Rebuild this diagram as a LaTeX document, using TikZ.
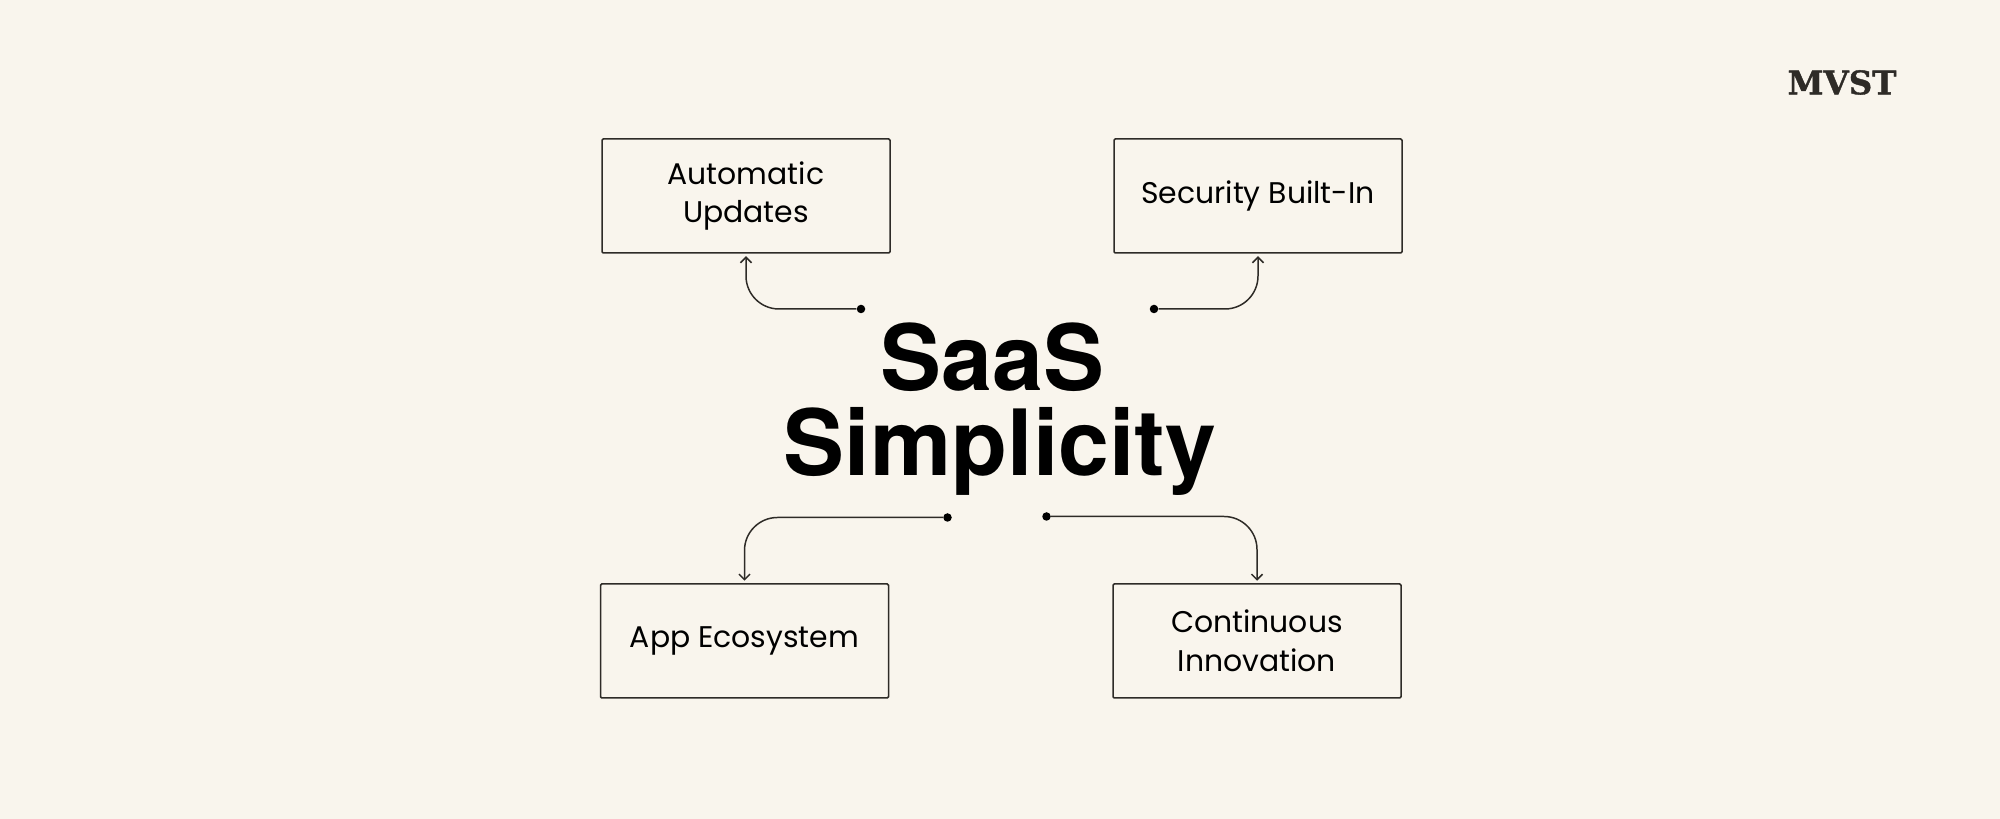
\documentclass[tikz,border=0pt]{standalone}
\usepackage{fontspec}
\setmainfont{Poppins}
\newfontfamily\titlefont{TeX Gyre Heros}
\newfontfamily\logofont[BoldFeatures={FakeBold=1.2}]{DejaVu Serif}
\usetikzlibrary{arrows.meta}
\definecolor{paper}{HTML}{F9F5ED}
\definecolor{ink}{HTML}{2E2B27}
\tikzset{
    block/.style = {draw=ink, rectangle, line width=0.85pt, rounded corners=0.7pt,
        minimum height=2.28cm, 
        minimum width=5.76cm, align=center, text=black,
        font=\fontsize{17}{22}\selectfont},
    dot/.style = {circle, fill=black, inner sep=0pt, minimum size=0.17cm},
    arrow/.style={draw=ink, line width=0.85pt, rounded corners=0.66cm, shorten >=0.05cm,
        -{Straight Barb[length=1.1mm,width=2.2mm]}}
}

\begin{document}
\begin{tikzpicture}[auto, node distance=10.24cm]
        \fill [paper] (0,0) rectangle (40,16.38);
        \node [block] (auto) at (14.92,12.46) {Automatic\\Updates};
        \node [block, right of=auto] (secu) {Security Built-In};
        \node [block] (appe) at (14.89,3.56) {App Ecosystem};
        \node [block, right of=appe, node distance=10.25cm] (cont) {Continuous\\Innovation};
        \node [align=center, font=\titlefont\bfseries\fontsize{52}{48.5}\selectfont] (title) at (20,8.2) {SaaS\hspace*{0.3cm}\\Simplicity};
        \node [font=\logofont\bfseries\fontsize{18.5}{19}\selectfont, text=ink] (logo) at (36.84,14.73) {MVST};
        \node [dot] (dauto) at (17.22,10.2) {};
        \node [dot] (dsecu) at (23.08,10.2) {};
        \node [dot] (dappe) at (18.95,6.03) {};
        \node [dot] (dcont) at (20.93,6.05) {};
        \draw [arrow] (dauto) -| (auto);
        \draw [arrow] (dsecu) -| (secu);
        \draw [arrow] (dappe) -| (appe);
        \draw [arrow] (dcont) -| (cont);
\end{tikzpicture}
\end{document}
